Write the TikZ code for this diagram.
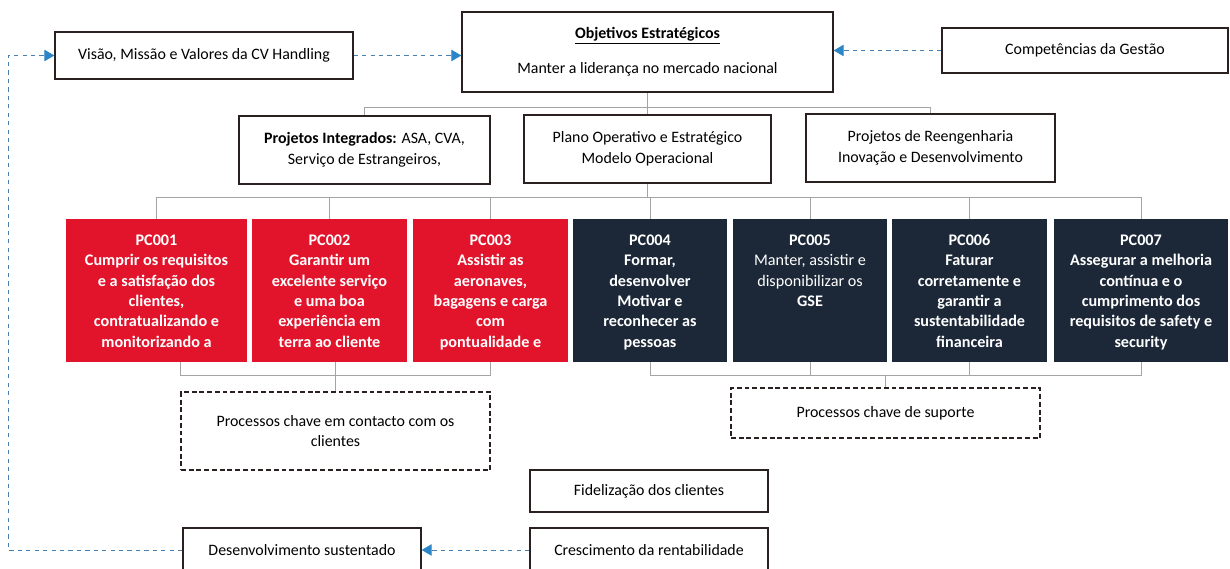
\documentclass[tikz,border=0pt]{standalone}
\usepackage{fontspec}
\setmainfont{Carlito}
\usepackage{xcolor}
\usepackage{tikz}
\usetikzlibrary{calc,arrows.meta}
\definecolor{pcred}{HTML}{E2142C}
\definecolor{pcnavy}{HTML}{1C2838}
\definecolor{edge}{HTML}{2A2020}
\definecolor{treegray}{HTML}{A4A4A4}
\definecolor{flowblue}{HTML}{4A7FB0}
\definecolor{tipblue}{HTML}{2A86C6}
\tikzset{
  box/.style={draw=edge, line width=0.9pt, fill=white, align=center, inner sep=2pt, font=\fontsize{11.3}{14}\selectfont},
  dbox/.style={box, dash pattern=on 3.5pt off 2pt},
  pc/.style={draw=none, text=white, inner sep=0pt, minimum height=3.575cm, font=\bfseries\fontsize{11.5}{14.5}\selectfont},
  redpc/.style={pc, fill=pcred},
  navypc/.style={pc, fill=pcnavy},
  link/.style={draw=treegray, line width=0.7pt},
  flowline/.style={draw=flowblue, dashed, line width=0.7pt, -{Triangle[color=tipblue, length=7pt, width=8pt]}}
}
\newcommand{\pctext}[2]{\parbox[c][3.575cm][t]{#1}{\centering\rule{0pt}{0.66cm}#2}}

\begin{document}
\begin{tikzpicture}[x=0.025cm, y=-0.025cm]
  \fill[white] (0,0) rectangle (1230,569);
  \useasboundingbox (0,0) rectangle (1230,569);
  % top row
  \node[box, minimum width=7.45cm, minimum height=1.175cm] (vis) at (204,55.5) {Visão, Missão e Valores da CV Handling};
  \node[box, minimum width=9.275cm, minimum height=2cm] (obj) at (647.5,52) {\textbf{\underline{Objetivos Estratégicos}}\\[11pt]Manter a liderança no mercado nacional};
  \node[box, minimum width=7.15cm, minimum height=1.125cm] (comp) at (1085,50.5) {Competências da Gestão};
  % projects
  \node[box, minimum width=6.275cm, minimum height=1.7cm] (proj) at (364.5,150) {\textbf{Projetos Integrados:} ASA, CVA,\\[1pt]Serviço de Estrangeiros,};
  \node[box, minimum width=6.175cm, minimum height=1.7cm] (plano) at (647.5,149) {Plano Operativo e Estratégico\\[1pt]Modelo Operacional};
  \node[box, minimum width=6.225cm, minimum height=1.7cm] (reeng) at (930.5,148) {Projetos de Reengenharia\\[1pt]Inovação e Desenvolvimento};
  % key processes
  \node[redpc, minimum width=4.525cm] (pc1) at (156.5,290.5) {\pctext{4.45cm}{PC001\\Cumprir os requisitos\\e a satisfação dos\\clientes,\\contratualizando e\\monitorizando a}};
  \node[redpc, minimum width=3.875cm] (pc2) at (329.5,290.5) {\pctext{3.8cm}{PC002\\Garantir um\\excelente serviço\\e uma boa\\experiência em\\terra ao cliente}};
  \node[redpc, minimum width=3.875cm] (pc3) at (490.5,290.5) {\pctext{3.8cm}{PC003\\Assistir as\\aeronaves,\\bagagens e carga\\com\\pontualidade e}};
  \node[navypc, minimum width=3.85cm] (pc4) at (650,290.5) {\pctext{3.8cm}{PC004\\Formar,\\desenvolver\\Motivar e\\reconhecer as\\pessoas}};
  \node[navypc, minimum width=3.85cm] (pc5) at (810,290.5) {\pctext{3.8cm}{PC005\\{\mdseries Manter, assistir e}\\{\mdseries disponibilizar os}\\GSE}};
  \node[navypc, minimum width=3.875cm] (pc6) at (969.5,290.5) {\pctext{3.8cm}{PC006\\Faturar\\corretamente e\\garantir a\\sustentabilidade\\financeira}};
  \node[navypc, minimum width=4.35cm] (pc7) at (1141,290.5) {\pctext{4.3cm}{PC007\\Assegurar a melhoria\\contínua e o\\cumprimento dos\\requisitos de safety e\\security}};
  % groups
  \node[dbox, minimum width=7.725cm, minimum height=1.95cm] (cli) at (335.5,431) {Processos chave em contacto com os\\clientes};
  \node[dbox, minimum width=7.725cm, minimum height=1.25cm] (sup) at (885.5,413) {Processos chave de suporte};
  % results
  \node[box, minimum width=5.95cm, minimum height=1.05cm] (fid) at (649,491) {Fidelização dos clientes};
  \node[box, minimum width=5.95cm, minimum height=1.1cm] (cresc) at (649,550) {Crescimento da rentabilidade};
  \node[box, minimum width=5.95cm, minimum height=1.1cm] (des) at (302,550) {Desenvolvimento sustentado};

  \coordinate (t1) at (0,107);
  \coordinate (t2) at (0,197);
  \coordinate (t3) at (0,375);
  \coordinate (ret) at (8,550);

  % tree
  \draw[link] (obj.south) -- (plano.north);
  \draw[link] (proj.north) |- (reeng.north |- t1) -- (reeng.north);
  \draw[link] (plano.south) -- (plano.south |- t2);
  \draw[link] (pc1.north) |- (pc7.north |- t2) -- (pc7.north);
  \foreach \n in {2,...,6} \draw[link] (pc\n.north) -- (pc\n.north |- t2);
  \draw[link] (pc1.south -| cli.west) |- (cli.east |- t3) -- (pc3.south -| cli.east);
  \draw[link] (pc2.south -| cli.north) -- (cli.north);
  \draw[link] (pc4.south) |- (pc7.south |- t3) -- (pc7.south);
  \foreach \n in {5,6} \draw[link] (pc\n.south) -- (pc\n.south |- t3);
  \draw[link] (sup.north) -- (sup.north |- t3);

  % dashed flows
  \draw[flowline] (vis.east) -- (vis.east -| obj.west);
  \draw[flowline] (comp.west) -- (comp.west -| obj.east);
  \draw[flowline] (cresc.west) -- (des.east);
  \draw[flowline] (des.west) -- (ret) |- (vis.west);
\end{tikzpicture}
\end{document}
